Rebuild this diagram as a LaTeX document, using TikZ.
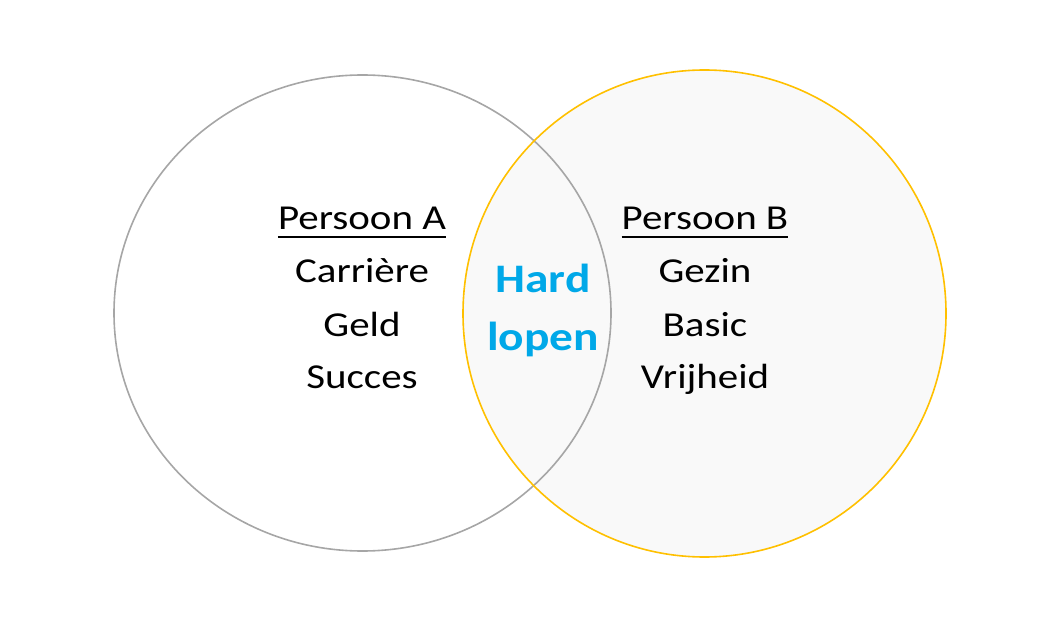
\documentclass[tikz,border=0pt]{standalone}
\usepackage{fontspec}
\setmainfont[FakeStretch=1.17]{Carlito}
\definecolor{cgray}{HTML}{A6A6A6}
\definecolor{cyellow}{HTML}{FFC000}
\definecolor{cblue}{HTML}{00A8E8}
\definecolor{cfill}{HTML}{F9F9F9}
\begin{document}
\begin{tikzpicture}[x=1pt,y=1pt,
  lbl/.style={inner sep=0pt,anchor=base,font=\fontsize{35}{40}\selectfont,text=black},
  hl/.style={inner sep=0pt,anchor=base,font=\fontsize{40.5}{45}\selectfont\bfseries,text=cblue},
  uline/.style={line width=2.2pt,black}]
\useasboundingbox (0,0) rectangle (1051,619);
% circles
\coordinate (ca) at (362.5,306);
\coordinate (cb) at (704.5,305.5);
\fill[cfill] (cb) ellipse [x radius=241.5, y radius=243.5];
\draw[cgray,line width=1.6pt] (ca) ellipse [x radius=248.5, y radius=238];
\draw[cyellow,line width=1.6pt] (cb) ellipse [x radius=241.5, y radius=243.5];
% left texts
\node[lbl] (pa) at (362,389) {Persoon A};
\draw[uline] ([yshift=-7pt]pa.base west) -- ([yshift=-7pt]pa.base east);
\node[lbl] (a1) at (362,336) {Carrière};
\node[lbl] (a2) at (362,283) {Geld};
\node[lbl] (a3) at (362,231) {Succes};
% right texts
\node[lbl] (pb) at (705,389) {Persoon B};
\draw[uline] ([yshift=-7pt]pb.base west) -- ([yshift=-7pt]pb.base east);
\node[lbl] (b1) at (705,336) {Gezin};
\node[lbl] (b2) at (705,283) {Basic};
\node[lbl] (b3) at (705,231) {Vrijheid};
% intersection
\node[hl] (h1) at (543,326) {Hard};
\node[hl] (h2) at (543,269) {lopen};
\end{tikzpicture}
\end{document}
